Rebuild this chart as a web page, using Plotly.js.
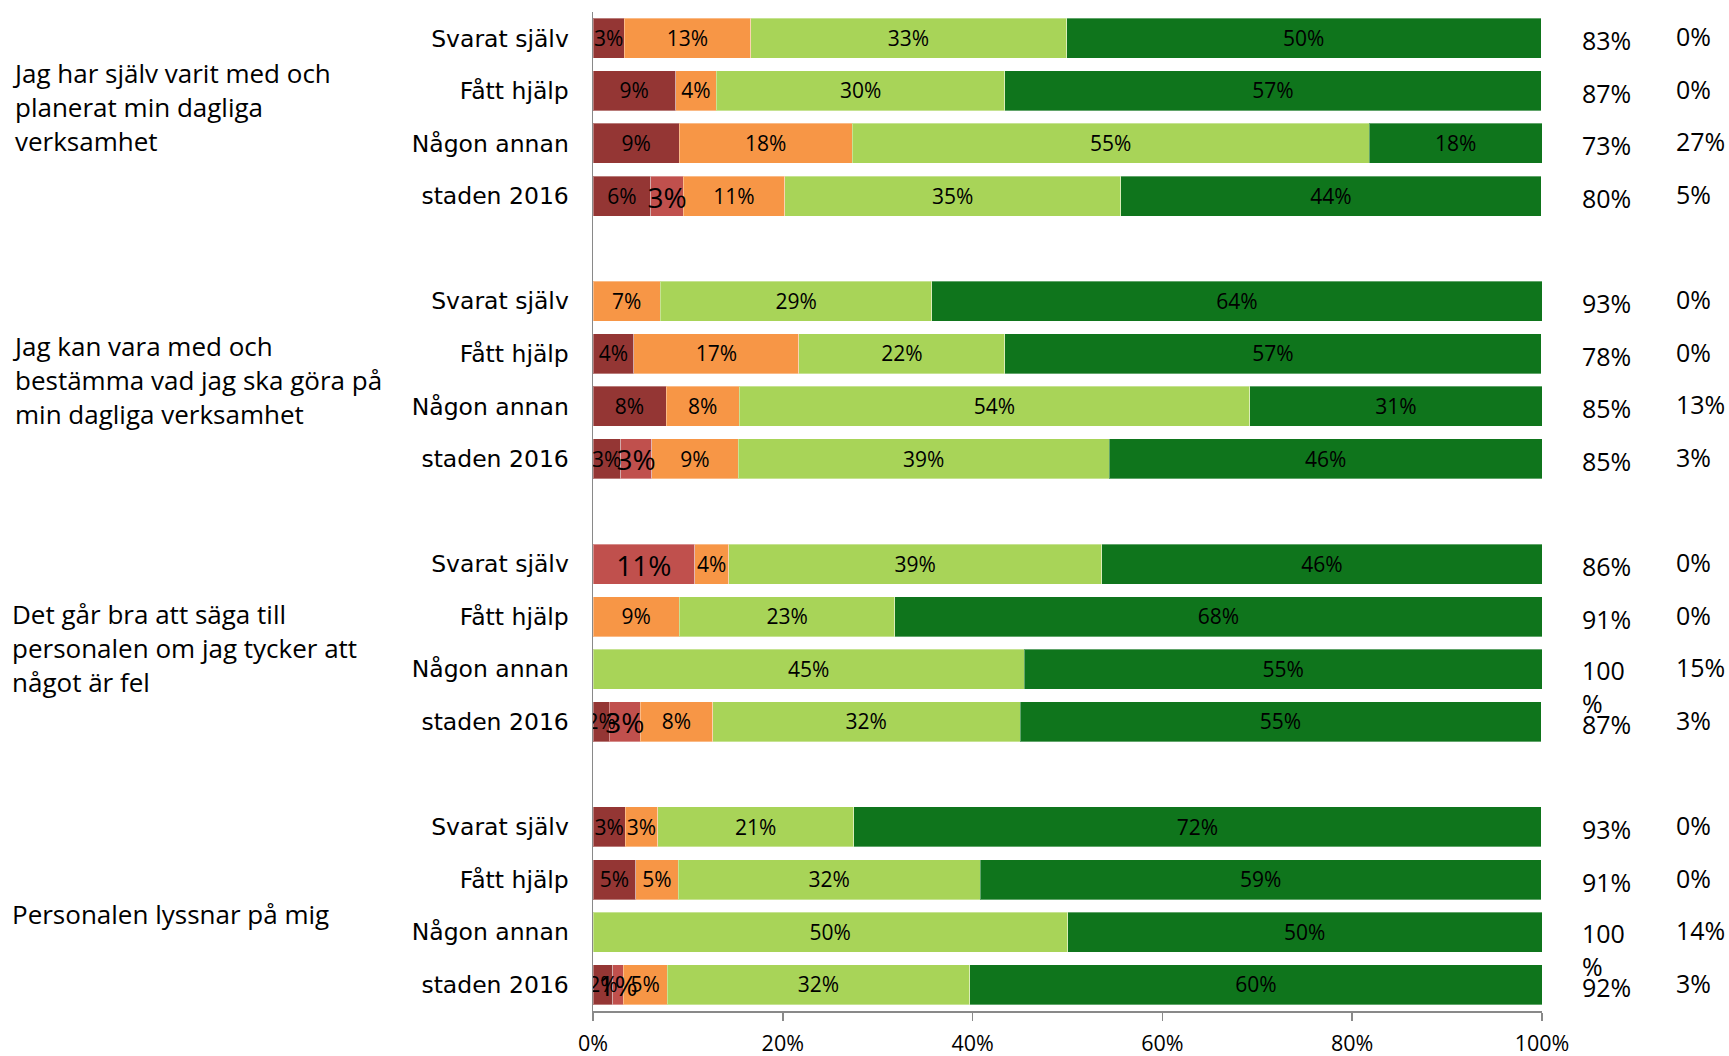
<!DOCTYPE html>
<html>
<head>
<meta charset="utf-8">
<script src="https://cdn.plot.ly/plotly-3.0.1.min.js"></script>
<style>html,body{margin:0;padding:0;background:#fff;}#chart{width:1729px;height:1056px;}</style>
</head>
<body>
<div id="chart"></div>
<script>
// ---- Data ----
const groupTitles = [
  "Jag har själv varit med och<br>planerat min dagliga<br>verksamhet",
  "Jag kan vara med och<br>bestämma vad jag ska göra på<br>min dagliga verksamhet",
  "Det går bra att säga till<br>personalen om jag tycker att<br>något är fel",
  "Personalen lyssnar på mig"
];
const rowLabels = ["Svarat själv", "Fått hjälp", "Någon annan", "staden 2016"];

// 16 rows: 4 groups x 4 rows (percent of respondents)
const darkRed    = [3.3, 8.7, 9.1, 6.1,   0, 4.3, 7.7, 2.9,   0, 0, 0, 1.7,      3.4, 4.5, 0, 2.1];
const red        = [0, 0, 0, 3.4,         0, 0, 0, 3.3,       10.7, 0, 0, 3.3,   0, 0, 0, 1.1];
const orange     = [13.3, 4.3, 18.2, 10.7, 7.1, 17.4, 7.7, 9.1, 3.6, 9.1, 0, 7.6, 3.4, 4.5, 0, 4.6];
const lightGreen = [33.3, 30.4, 54.5, 35.4, 28.6, 21.7, 53.8, 39.1, 39.3, 22.7, 45.45, 32.4, 20.7, 31.8, 50, 31.9];
const darkGreen  = [50.0, 56.5, 18.2, 44.3, 64.3, 56.5, 30.8, 45.6, 46.4, 68.2, 54.55, 54.9, 72.4, 59.1, 50, 60.3];

// Right-hand columns
const colPositive = ["83%","87%","73%","80%", "93%","78%","85%","85%", "86%","91%","100<br>%","87%", "93%","91%","100<br>%","92%"];
const colOther    = ["0%","0%","27%","5%", "0%","0%","13%","3%", "0%","0%","15%","3%", "0%","0%","14%","3%"];

const xTicks = [0, 20, 40, 60, 80, 100];
const xTickText = ["0%", "20%", "40%", "60%", "80%", "100%"];

// ---- Build ----
const nRows = darkRed.length;
const yPos = [];
const yLab = [];
for (let i = 0; i < nRows; i++) { yPos.push(Math.floor(i / 4) * 5 + (i % 4)); yLab.push(rowLabels[i % 4]); }

function nz(arr){ return arr.map(v => v > 0 ? v : null); }

const labelFont = {family: "Open Sans", size: 21, color: "#000"};
const series = [
  {vals: darkRed,    color: "#943634", font: labelFont, dy: 0.045},
  {vals: red,        color: "#c0504d", font: {family: "Open Sans", size: 28, color: "#000"}, dy: 0.085},
  {vals: orange,     color: "#f79646", font: labelFont, dy: 0.045},
  {vals: lightGreen, color: "#a8d458", font: labelFont, dy: 0.045},
  {vals: darkGreen,  color: "#0f751c", font: labelFont, dy: 0.045}
];

const traces = series.map(s => ({
  type: 'bar', orientation: 'h',
  x: nz(s.vals), y: yPos,
  marker: {color: s.color, line: {color: 'rgba(255,255,255,0.35)', width: 1}},
  hoverinfo: 'skip', showlegend: false
}));

// Value labels on top of all bars, centred in each segment
const cum = new Array(nRows).fill(0);
series.forEach(s => {
  const xs = [], ys = [], ts = [];
  s.vals.forEach((v, i) => {
    if (v > 0) { xs.push(cum[i] + v / 2); ys.push(yPos[i] + s.dy); ts.push(Math.round(v) + '%'); }
    cum[i] += v;
  });
  traces.push({
    type: 'scatter', mode: 'text', x: xs, y: ys, text: ts,
    textposition: 'middle center', textfont: s.font,
    cliponaxis: true, hoverinfo: 'skip', showlegend: false
  });
});

const annotations = [];
const plotW = 1729 - 593 - 187;
const titleShift = [10, 0, -5, -8];
groupTitles.forEach((t, g) => {
  annotations.push({
    xref: 'paper', yref: 'y', x: (10 - 593) / plotW, y: g * 5 + 1.5,
    xanchor: 'left', yanchor: 'middle', align: 'left', showarrow: false,
    text: t, yshift: titleShift[g],
    font: {family: "Open Sans", size: 26, color: "#000"}
  });
});
for (let i = 0; i < nRows; i++) {
  const two = colPositive[i].indexOf('<br>') >= 0;
  annotations.push({
    xref: 'paper', yref: 'y', x: (1580 - 593) / plotW, y: yPos[i],
    xanchor: 'left', yanchor: two ? 'top' : 'middle', align: 'left', showarrow: false,
    text: colPositive[i], yshift: two ? 18 : -2,
    font: {family: "Open Sans", size: 25, color: "#000"}
  });
  annotations.push({
    xref: 'paper', yref: 'y', x: (1674 - 593) / plotW, y: yPos[i],
    xanchor: 'left', yanchor: 'middle', align: 'left', showarrow: false,
    text: colOther[i], yshift: 2,
    font: {family: "Open Sans", size: 25, color: "#000"}
  });
}

const layout = {
  width: 1729, height: 1056,
  margin: {l: 593, r: 187, t: 12, b: 45},
  barmode: 'stack', bargap: 0.24,
  paper_bgcolor: '#fff', plot_bgcolor: '#fff',
  xaxis: {
    range: [0, 100], tickmode: 'array', tickvals: xTicks, ticktext: xTickText,
    showgrid: false, zeroline: false,
    showline: true, linecolor: '#898989', linewidth: 1.5,
    ticks: 'outside', ticklen: 8, tickcolor: '#898989', tickwidth: 1.5,
    ticklabelstandoff: 5,
    tickfont: {family: "Open Sans", size: 21.5, color: "#000"}
  },
  yaxis: {
    range: [18.5, -0.5], tickmode: 'array', tickvals: yPos, ticktext: yLab,
    showgrid: false, zeroline: false,
    showline: true, linecolor: '#898989', linewidth: 1.5,
    ticks: '', ticklabelstandoff: 18,
    tickfont: {family: "DejaVu Sans", size: 23.5, color: "#000"}
  },
  annotations: annotations
};

Plotly.newPlot('chart', traces, layout, {staticPlot: true, displayModeBar: false});
</script>
</body>
</html>
